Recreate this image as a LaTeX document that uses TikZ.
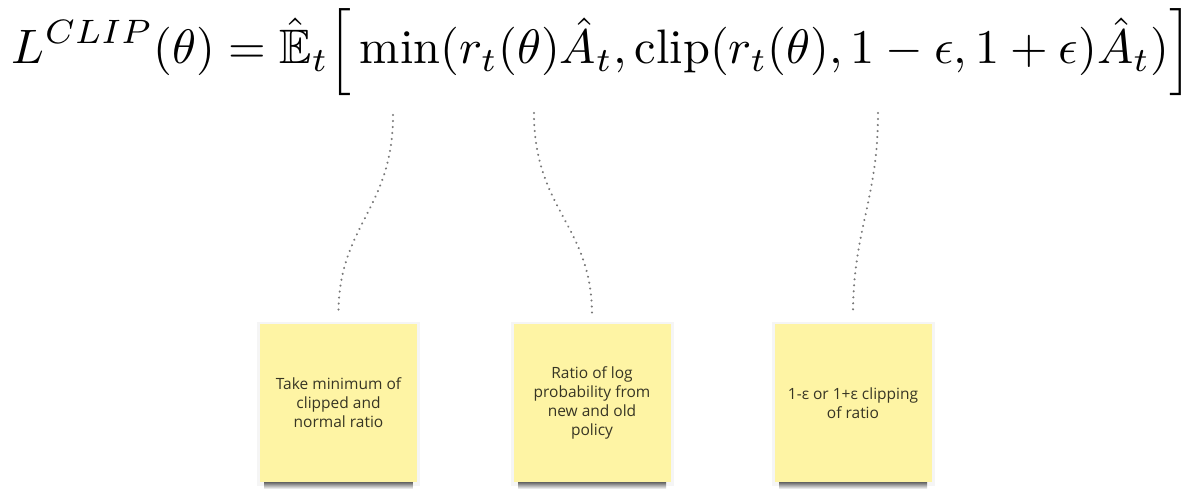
\documentclass[tikz,border=0pt]{standalone}
\usepackage{amsmath,amssymb}
\usepackage{graphicx}
\usepackage{fontspec}
\newfontfamily\notefont{Open Sans}
\usetikzlibrary{calc}
\definecolor{notefill}{RGB}{254,244,164}
\definecolor{notetext}{RGB}{55,53,36}
\definecolor{dotgray}{RGB}{120,120,120}
\tikzset{
  stickynote/.style={rectangle, fill=notefill, minimum width=157pt, minimum height=158pt,
    inner sep=0pt, align=center, text=notetext, font=\notefont\fontsize{15.5pt}{19pt}\selectfont},
  conn/.style={draw=dotgray, line width=2.3pt, dash pattern=on 0.01pt off 6pt, line cap=round, shorten >=9pt},
  halo/.style={fill=black!4},
  noteshadow/.style={top color=black!70, bottom color=white}
}
\begin{document}
\begin{tikzpicture}[x=1pt,y=-1pt]
\useasboundingbox (0,0) rectangle (1202,491);
\fill[white] (0,0) rectangle (1202,491);

\node[inner sep=0pt, anchor=north] (eq) at (602,8) {\resizebox{1180pt}{!}{$\displaystyle L^{CLIP}(\theta)=\hat{\mathbb{E}}_t\Big[\min(r_t(\theta)\hat{A}_t,\operatorname{clip}(r_t(\theta),1-\epsilon,1+\epsilon)\hat{A}_t)\Big]$}};

\coordinate (c1) at (393,115);
\coordinate (c2) at (534,113);
\coordinate (c3) at (878,113);

% halos and shadows
\foreach \cx in {338.5,592,853}{
  \fill[halo] (\cx-81.5,322) rectangle (\cx+81.5,486);
  \shade[noteshadow] (\cx-74,481) rectangle (\cx+74,489);
}

\node[stickynote] (n1) at (338.5,403) {Take minimum of\\clipped and\\normal ratio};
\node[stickynote] (n2) at (592,403) {Ratio of log\\probability from\\new and old\\policy};
\node[stickynote] (n3) at (853,403) {1-ε or 1+ε clipping\\of ratio};

\draw[conn] (c1) .. controls (393,210) and (338,225) .. (n1.north);
\draw[conn] (c2) .. controls (534,210) and (592,225) .. (n2.north);
\draw[conn] (c3) .. controls (878,200) and (853,230) .. (n3.north);
\end{tikzpicture}
\end{document}
